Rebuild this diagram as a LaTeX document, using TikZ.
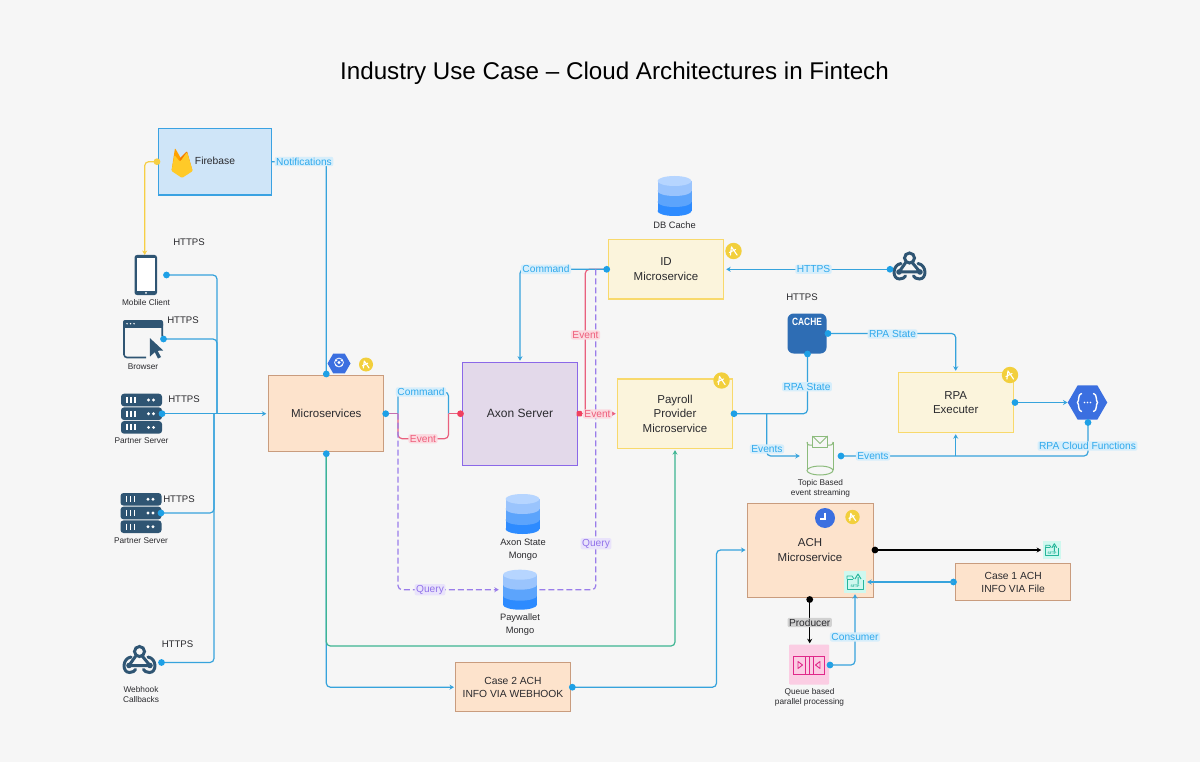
\documentclass[tikz,border=0pt]{standalone}
\usepackage{fontspec}
\setmainfont{Liberation Sans}
\usetikzlibrary{arrows.meta,shapes.geometric,calc}
\definecolor{bgc}{HTML}{F6F6F6}
\definecolor{ink}{HTML}{2A2A2E}
\definecolor{lineblue}{HTML}{36A3DC}
\definecolor{dotblue}{HTML}{1EA0E6}
\definecolor{labblue}{HTML}{D6EEFB}
\definecolor{txtblue}{HTML}{30A9EC}
\definecolor{linered}{HTML}{E9607E}
\definecolor{dotred}{HTML}{F0405F}
\definecolor{labred}{HTML}{FBD9DF}
\definecolor{txtred}{HTML}{EE5F7C}
\definecolor{linepur}{HTML}{9A7DEA}
\definecolor{labpur}{HTML}{E9E3FB}
\definecolor{txtpur}{HTML}{9273EA}
\definecolor{linegreen}{HTML}{3DB592}
\definecolor{lineyel}{HTML}{F6CF45}
\definecolor{darkicon}{HTML}{2F5573}
\definecolor{peach}{HTML}{FDE3CC}
\definecolor{peachb}{HTML}{C99C7E}
\definecolor{cream}{HTML}{FBF4DC}
\definecolor{creamb}{HTML}{F8D96C}
\definecolor{fireb}{HTML}{CFE5F8}
\definecolor{firebb}{HTML}{3AA2E2}
\definecolor{axon}{HTML}{E3D9EA}
\definecolor{axonb}{HTML}{8B68E8}
\definecolor{badgey}{HTML}{F2CF3C}
\definecolor{gcpblue}{HTML}{3B6FE0}
\definecolor{sftpbg}{HTML}{CFF8EF}
\definecolor{sftpl}{HTML}{25B59A}
\definecolor{dba}{HTML}{2D8BFF}
\definecolor{dbb}{HTML}{5CA4FC}
\definecolor{dbc}{HTML}{9AC4FD}
\definecolor{dbd}{HTML}{B6D5FF}
\definecolor{cachec}{HTML}{2E6DB4}
\definecolor{topg}{HTML}{8CBB7C}
\definecolor{qm}{HTML}{FBCDE3}
\definecolor{qd}{HTML}{E0288A}
\pgfdeclarelayer{paper}
\pgfdeclarelayer{lines}
\pgfsetlayers{paper,lines,main}
\tikzset{
  x=1pt,y=-1pt,
  box/.style={draw,line width=1pt,minimum width=#1,inner sep=0pt,align=center,text=ink,font=\fontsize{11.5}{14.7}\selectfont},
  peachbox/.style={box=115pt,fill=peach,draw=peachb},
  creambox/.style={box=115pt,fill=cream,draw=creamb,line width=1.4pt},
  small/.style={text=ink,align=center,inner sep=0pt,font=\fontsize{8.3}{9.8}\selectfont},
  mid/.style={text=ink,align=center,inner sep=0pt,font=\fontsize{9.3}{13}\selectfont},
  https/.style={text=ink,inner sep=0pt,font=\fontsize{9.6}{12}\selectfont},
  lab/.style={rounded corners=2pt,inner xsep=1.5pt,inner ysep=1pt,font=\fontsize{10.2}{12}\selectfont},
  lblue/.style={lab,fill=labblue,text=txtblue},
  lred/.style={lab,fill=labred,text=txtred},
  lpur/.style={lab,fill=labpur,text=txtpur},
  lgrey/.style={lab,fill=black!18,text=ink},
  dot/.style={circle,fill=#1,inner sep=0pt,minimum size=6.8pt},
  wire/.style={line width=1.2pt,rounded corners=4pt,draw=#1},
  tip/.style={-{Stealth[length=4.5pt,width=5pt]}},
  iconbox/.style={inner sep=0pt,minimum width=#1,minimum height=#1},
}
\newcommand{\badgeicon}[4]{% name x y r
  \node[circle,fill=badgey,inner sep=0pt,minimum size=#4*2pt] (#1) at (#2,#3) {};
  \begin{scope}[shift={(#2,#3)},scale=#4/8]
    \draw[white,line width=1.1pt,line cap=round] (-2,-4) -- (3.5,4) (-2,-4) -- (-3,4) (-4,1.5) -- (2,-1.5);
  \end{scope}}
\newcommand{\dbicon}[3]{%
  \node[iconbox=34pt] (#1) at (#2,#3) {};
  \begin{scope}[shift={(#2,#3)}]
    \fill[dba] (-17,6) rectangle (17,15); \fill[dba] (0,15) ellipse [x radius=17,y radius=5];
    \fill[dbb] (-17,-5) rectangle (17,6); \fill[dbb] (0,6) ellipse [x radius=17,y radius=5];
    \fill[dbc] (-17,-15) rectangle (17,-5); \fill[dbc] (0,-5) ellipse [x radius=17,y radius=5];
    \fill[dbd] (0,-15) ellipse [x radius=17,y radius=5];
  \end{scope}}
\newcommand{\servericon}[3]{%
  \node[iconbox=40pt] (#1) at (#2,#3) {};
  \begin{scope}[shift={(#2,#3)}]
    \foreach \yy in {-13.7,0,13.7}{
      \fill[darkicon,rounded corners=3pt] (-20.5,\yy-6.3) rectangle (20.5,\yy+6.3);
      \draw[white,line width=1.2pt] (-14.5,\yy-3) -- (-14.5,\yy+3) (-10.5,\yy-3) -- (-10.5,\yy+3) (-6.5,\yy-3) -- (-6.5,\yy+3);
      \fill[white] (7,\yy) circle (1.6) (12,\yy) circle (1.6);
    }
  \end{scope}}
\newcommand{\webhookicon}[3]{%
  \node[iconbox=30pt] (#1) at (#2,#3) {};
  \begin{scope}[shift={(#2,#3)}]
    \draw[darkicon,line width=3pt,line cap=round]
      (0,-8) circle (5)
      (2.5,-3.7) -- (10.5,6)
      (10.5,6) -- (-10.5,6)
      (-3.4,-4) -- (-10.5,6)
      (-8.5,-2.5) .. controls (-17.5,-1) and (-17.5,13) .. (-10,13) .. controls (-7,13) and (-4.5,11.5) .. (-4,10)
      (4,10) .. controls (4.5,11.5) and (7,13) .. (10,13) .. controls (17.5,13) and (17.5,-1) .. (8.5,-2.5);
    \fill[darkicon] (10.5,6) circle (2.8) (-10.5,6) circle (2.8);
  \end{scope}}
\newcommand{\sftpicon}[4]{% name x y scale
  \node[iconbox=#4*22pt,fill=sftpbg] (#1) at (#2,#3) {};
  \begin{scope}[shift={(#2,#3)},scale=#4]
    \draw[sftpl,line width=0.8pt,line join=round] (-2,-3) -- (-8,-3) -- (-8,7) -- (8,7) -- (8,-2);
    \draw[sftpl,line width=0.8pt,line join=round] (-8,-3) -- (-8,-6) -- (-3,-6) -- (-1,-3);
    \draw[sftpl,line width=1pt,line join=round] (3,2) -- (3,-5) (0,-3) -- (3,-8) -- (6,-3);
    \node[text=sftpl,inner sep=0pt,font=\bfseries\fontsize{3.5}{4}\selectfont] at (0,4.6) {SFTP};
  \end{scope}}
\begin{document}
\begin{tikzpicture}
\useasboundingbox (0,0) rectangle (1200,762);
\begin{pgfonlayer}{paper}
\fill[bgc] (0,0) rectangle (1200,762);
\end{pgfonlayer}
\node[text=black,inner sep=0pt,font=\fontsize{24.2}{28}\selectfont] (title) at (614.5,73.5) {Industry Use Case – Cloud Architectures in Fintech};

% ---- boxes
\node[box=113pt,minimum height=66.5pt,fill=fireb,draw=firebb,line width=1.2pt] (firebase) at (215,161.7) {};
\node[text=ink,inner sep=0pt,font=\fontsize{10.3}{12}\selectfont] (firetxt) at (215,161.3) {Firebase};
\node[peachbox,minimum height=75.5pt] (micro) at (326.3,413.7) {Microservices};
\node[box=115pt,minimum height=103pt,fill=axon,draw=axonb,font=\fontsize{12}{15}\selectfont] (axon) at (520,413.7) {Axon Server};
\node[creambox,minimum height=59pt] (idms) at (666,269.3) {ID\\Microservice};
\node[creambox,minimum height=69.5pt] (payroll) at (675,413.7) {Payroll\\Provider\\Microservice};
\node[creambox,minimum height=60pt] (rpa) at (955.7,402.5) {RPA\\Executer};
\node[peachbox,minimum width=126pt,minimum height=94pt] (ach) at (810,550) {ACH\\Microservice};
\node[peachbox,font=\fontsize{10.3}{13}\selectfont,minimum height=37.5pt] (case1) at (1013.2,582) {Case 1 ACH\\INFO VIA File};
\node[peachbox,font=\fontsize{10.3}{13}\selectfont,minimum height=49.5pt] (case2) at (513,687.2) {Case 2 ACH\\INFO VIA WEBHOOK};

% ---- firebase flame
\begin{scope}[shift={(182,163)}]
  \definecolor{fa}{HTML}{F57C00}\definecolor{fb}{HTML}{FFA000}\definecolor{fc}{HTML}{FFCA28}
  \fill[fb,rounded corners=1pt] (-10.5,8) -- (-7,-15) -- (1,-1) -- cycle;
  \fill[fa,rounded corners=1pt] (-3,-4) -- (5,-12) -- (10.5,8) -- cycle;
  \fill[fc,rounded corners=1pt] (-10.5,8) -- (-7.5,-8) -- (-2,-1) -- (5,-11) -- (10.8,8) -- (0,15) -- cycle;
\end{scope}

% ---- left icons
\node[iconbox=24pt,minimum height=40pt] (mobile) at (145.8,275) {};
\fill[darkicon,rounded corners=2.5pt] (134.5,255) rectangle (157,295);
\fill[white] (136.5,258) rectangle (155,291);
\fill[white] (146,292.8) circle (1);
\node[small] (mobilet) at (146,303) {Mobile Client};

\node[iconbox=40pt] (browser) at (143,339) {};
\draw[darkicon,line width=1.6pt,rounded corners=3pt] (146,357.5) -- (124,357.5) -- (124,320.8) -- (162.2,320.8) -- (162.2,336);
\fill[darkicon,rounded corners=2pt] (123,320) rectangle (163,327.5);
\fill[darkicon] (123.5,325) rectangle (162.8,328);
\fill[white] (127,323.7) circle (0.8) (130.5,323.7) circle (0.8) (134,323.7) circle (0.8);
\fill[darkicon] (149.8,338) -- (163.2,350.5) -- (157.6,350.8) -- (161,357) -- (158,358.5) -- (154.8,352.2) -- (150,356.5) -- cycle;
\node[small] (browsert) at (143,366.7) {Browser};

\servericon{srv1}{141.5}{413.7}
\node[small] (srv1t) at (141.5,441) {Partner Server};
\servericon{srv2}{141}{513}
\node[small] (srv2t) at (141,541) {Partner Server};
\webhookicon{hook1}{139.5}{659.5}
\node[small,font=\fontsize{8.3}{10}\selectfont] (hook1t) at (141,695) {Webhook\\Callbacks};
\node[https] (h1) at (189,242.5) {HTTPS};
\node[https] (h2) at (183,320.5) {HTTPS};
\node[https] (h3) at (184,399.5) {HTTPS};
\node[https] (h4) at (179,498.7) {HTTPS};
\node[https] (h5) at (177.5,644) {HTTPS};

% ---- centre icons
\node[regular polygon,regular polygon sides=6,fill=gcpblue,inner sep=0pt,minimum size=23pt] (k8s) at (339,363.5) {};
\begin{scope}[shift={(339,363.5)}]
  \draw[white,line width=0.8pt] (0,-1) circle (4.4);
  \fill[white] (0,-1) circle (1.6) (-2.5,-3) circle (0.9) (2.5,-3) circle (0.9) (2.5,2) circle (0.9) (-2.5,2) circle (0.9);
\end{scope}
\badgeicon{b1}{366}{364.5}{7}
\dbicon{dbaxon}{522.5}{514}
\node[mid] (dbaxont) at (523,549.5) {Axon State\\Mongo};
\dbicon{dbpay}{520}{589.7}
\node[mid] (dbpayt) at (520,624.5) {Paywallet\\Mongo};
\dbicon{dbcache}{674.5}{196}
\node[mid] (dbcachet) at (674.5,225) {DB Cache};
\badgeicon{b2}{733.5}{251}{8.2}
\badgeicon{b3}{721.5}{380.5}{8.2}
\badgeicon{b4}{1010}{375}{8.2}
\badgeicon{b5}{852.5}{517}{7.2}
\webhookicon{hook2}{909.5}{266}

% ---- cache
\node[fill=cachec,minimum width=39pt,minimum height=40pt,inner sep=0pt,rounded corners=6pt] (cache) at (807,333.5) {};
\node[text=white,inner sep=0pt,font=\bfseries\fontsize{10.5}{12}\selectfont] (cachet) at (807,322.2) {\scalebox{0.8}[1]{CACHE}};
\node[https] (h6) at (802,297) {HTTPS};

% ---- topic icon
\node[iconbox=30pt] (topic) at (820,456) {};
\begin{scope}[shift={(820,456)}]
  \draw[topg,line width=1pt] (-13,-14) -- (-13,14) (13,-14) -- (13,14);
  \draw[topg,line width=1pt] (0,14.5) ellipse [x radius=13,y radius=4.5];
  \draw[topg,line width=1pt] (-7,-11) .. controls (-11,-10.5) and (-13,-11) .. (-13,-14);
  \draw[topg,line width=1pt] (7,-11) .. controls (11,-10.5) and (13,-11) .. (13,-14);
  \draw[topg,line width=1pt,line join=round,fill=bgc] (-7.5,-20) rectangle (7.5,-9);
  \draw[topg,line width=1pt,line join=round] (-7.5,-20) -- (0,-12.5) -- (7.5,-20);
\end{scope}
\node[small] (topict) at (820.5,488.5) {Topic Based\\event streaming};

% ---- gcp functions
\node[regular polygon,regular polygon sides=6,fill=gcpblue,inner sep=0pt,minimum size=39.5pt] (gcp) at (1087.5,402.5) {};
\begin{scope}[shift={(1087.5,402.5)}]
  \draw[white,line width=1.4pt,line cap=round] (-6,-9) .. controls (-10,-8) and (-8,-2) .. (-10,0) .. controls (-8,2) and (-10,8) .. (-6,9);
  \draw[white,line width=1.4pt,line cap=round] (6,-9) .. controls (10,-8) and (8,-2) .. (10,0) .. controls (8,2) and (10,8) .. (6,9);
  \fill[white] (-3,0) circle (0.8) (0,0) circle (0.8) (3,0) circle (0.8);
\end{scope}

% ---- ach icons
\node[circle,fill=gcpblue,inner sep=0pt,minimum size=20pt] (clock) at (825,518) {};
\draw[white,line width=1.1pt] (825,512.5) -- (825,519) -- (820,519);
\sftpicon{sftp1}{855}{582}{1}
\sftpicon{sftp2}{1052}{550}{0.78}

% ---- queue
\node[iconbox=40pt,fill=qm,rounded corners=1pt] (queue) at (809,664.5) {};
\begin{scope}[shift={(809,665)}]
  \draw[qd,line width=1pt] (-15.5,-9) rectangle (15.5,9);
  \draw[qd,line width=1pt] (-4,-9) -- (-4,9) (0,-9) -- (0,9) (4,-9) -- (4,9);
  \draw[qd,line width=0.9pt,line join=round] (-11,-3.5) -- (-6.5,0) -- (-11,3.5) -- cycle;
  \draw[qd,line width=0.9pt,line join=round] (11,-3.5) -- (6.5,0) -- (11,3.5) -- cycle;
\end{scope}
\node[small] (queuet) at (809.5,697.3) {Queue based\\parallel processing};

% ---- dots
\node[dot=lineyel] (dFire) at (157,161.7) {};
\node[dot=dotblue] (dMobile) at (166.5,275) {};
\node[dot=dotblue] (dBrowser) at (163.5,339) {};
\node[dot=dotblue] (dSrv1) at (162,413.7) {};
\node[dot=dotblue] (dSrv2) at (161,513) {};
\node[dot=dotblue] (dHook1) at (161.5,662.5) {};
\node[dot=dotblue] (dMicroT) at (326.3,374) {};
\node[dot=dotblue] (dMicroB) at (326.3,453.7) {};
\node[dot=dotblue] (dMicroR) at (385.7,413.7) {};
\node[dot=dotred] (dAxonL) at (460.5,413.7) {};
\node[dot=dotred,rectangle,minimum size=5.5pt,rounded corners=1pt] (dAxonR) at (579.3,413.7) {};
\node[dot=dotblue] (dId) at (606.7,269.3) {};
\node[dot=dotblue] (dHook2) at (890,269.3) {};
\node[dot=dotblue] (dCacheR) at (828,333.5) {};
\node[dot=dotblue] (dCacheB) at (807.5,354) {};
\node[dot=dotblue] (dPay) at (734,413.7) {};
\node[dot=dotblue] (dTopic) at (841,456) {};
\node[dot=dotblue] (dRpa) at (1015,402.5) {};
\node[dot=dotblue] (dGcp) at (1088,422.5) {};
\node[dot=black] (dAchR) at (875,550) {};
\node[dot=black] (dAchB) at (809.7,599.5) {};
\node[dot=dotblue] (dCase1) at (953.5,582) {};
\node[dot=dotblue] (dQueue) at (830,665) {};
\node[dot=dotblue] (dCase2) at (572.3,687.2) {};

% ---- free waypoints
\coordinate (fireElbow) at (144.7,255);
\coordinate (busA) at (217,413.7);
\coordinate (busB) at (214,413.7);
\coordinate (notif) at (326.3,161.7);
\coordinate (cmdUpL) at (398,392);
\coordinate (cmdUpR) at (448.5,392);
\coordinate (cmdJoin) at (448.5,413.7);
\coordinate (evDnL) at (398,438.7);
\coordinate (evDnR) at (448.5,438.7);
\coordinate (split) at (398,413.7);
\coordinate (redTop) at (585.3,269.3);
\coordinate (redBase) at (585.3,413.7);
\coordinate (purTop) at (595.8,269.3);
\coordinate (purBot) at (595.8,589.7);
\coordinate (purL) at (398,589.7);
\coordinate (cmdTop) at (520,269.3);
\coordinate (evElbow) at (766.7,456);
\coordinate (evSplit) at (766.7,413.7);
\coordinate (rpaTop) at (955.7,333.5);
\coordinate (rpaBot) at (955.7,456);
\coordinate (gcpBot) at (1088,456);
\coordinate (greenL) at (326.3,646);
\coordinate (greenR) at (675,646);
\coordinate (caseLeft) at (326.3,687.2);
\coordinate (achElbow) at (716.5,687.2);
\coordinate (achJoin) at (716.5,550);
\coordinate (consUp) at (855,665);

% ---- connectors
\begin{pgfonlayer}{lines}
\draw[wire=lineyel,tip] (dFire.center) -| (fireElbow);
\draw[wire=lineblue] (firebase.east |- dFire) -- (notif) -- (dMicroT.center);
\draw[wire=lineblue] (dMobile.center) -| (busA);
\draw[wire=lineblue] (dBrowser.center) -| (busA);
\draw[wire=lineblue] (dSrv2.center) -| (busB);
\draw[wire=lineblue] (dHook1.center) -| (busB);
\draw[wire=lineblue,tip,shorten >=2pt] (dSrv1.center) -- (micro.west);
\draw[wire=lineblue,tip,shorten >=1pt] (dMicroB.center) -- (caseLeft) -- (case2.west);
\draw[wire=linered!55!linepur] (dMicroR.center) -- (split);
\draw[wire=lineblue] (split) -- (cmdUpL) -- (cmdUpR) -- (cmdJoin);
\draw[wire=linered] (split) -- (evDnL) -- (evDnR) -- (cmdJoin);
\draw[wire=linered] (cmdJoin) -- (dAxonL.center);
\draw[wire=linered,tip,shorten >=1pt] (dAxonR.center) -- (payroll.west);
\draw[wire=linered] (redBase) -- (redTop) -- (dId.center);
\draw[wire=lineblue,tip,shorten >=1pt] (dId.center) -- (cmdTop) -- (axon.north);
\draw[wire=linepur,dash pattern=on 6pt off 3pt] (purTop) -- (purBot) -- (dbpay.east);
\draw[wire=linepur,dash pattern=on 6pt off 3pt,tip,shorten >=4pt] (split) -- (purL) -- (dbpay.west);
\draw[wire=lineblue,tip,shorten >=2pt] (dHook2.center) -- (idms.east);
\draw[wire=lineblue] (dPay.center) -| (dCacheB.center);
\draw[wire=lineblue,tip,shorten >=5pt] (evSplit) -- (evElbow) -- (topic.west);
\draw[wire=lineblue,tip,shorten >=1pt] (dCacheR.center) -- (rpaTop) -- (rpa.north);
\draw[wire=lineblue,tip,shorten >=1pt] (rpaBot) -- (rpa.south);
\draw[wire=lineblue] (dTopic.center) -- (gcpBot) -- (dGcp.center);
\draw[wire=lineblue,tip,shorten >=0pt] (dRpa.center) -- (gcp.west);
\draw[wire=black,tip,shorten >=2pt] (dAchR.center) -- (sftp2.west);
\draw[wire=black,tip,shorten >=1pt] (dAchB.center) -- (dAchB.center |- queue.north);
\draw[wire=linegreen,tip,shorten >=1pt] (dMicroB.center) -- (greenL) -- (greenR) -- (payroll.south);
\draw[wire=lineblue,tip,shorten >=1pt] (dCase2.center) -- (achElbow) -- (achJoin) -- (ach.west);
\end{pgfonlayer}
% these two run over the ACH box, up to its inner icon
\draw[wire=lineblue,tip,shorten >=1pt] (dCase1.center) -- (sftp1.east);
\draw[wire=lineblue,tip,shorten >=1pt] (dQueue.center) -- (consUp) -- (sftp1.south);

% ---- labels
\node[lblue] (lNotif) at (304,161.5) {Notifications};
\node[lblue] (lCmd1) at (421,392) {Command};
\node[lred] (lEv1) at (423,438.7) {Event};
\node[lred] (lEv2) at (597.5,414) {Event};
\node[lred] (lEv3) at (585.5,335) {Event};
\node[lblue] (lCmd2) at (546,269.3) {Command};
\node[lpur] (lQ1) at (430,589.7) {Query};
\node[lpur] (lQ2) at (596,543.7) {Query};
\node[lblue] (lH) at (813.5,269.3) {HTTPS};
\node[lblue] (lR1) at (892.5,334) {RPA State};
\node[lblue] (lR2) at (807,386.7) {RPA State};
\node[lblue] (lE1) at (767,449) {Events};
\node[lblue] (lE2) at (873,456) {Events};
\node[lblue] (lFn) at (1087.5,446) {RPA Cloud Functions};
\node[lgrey] (lProd) at (809.7,622.5) {Producer};
\node[lblue] (lCons) at (855,637) {Consumer};
\end{tikzpicture}
\end{document}
